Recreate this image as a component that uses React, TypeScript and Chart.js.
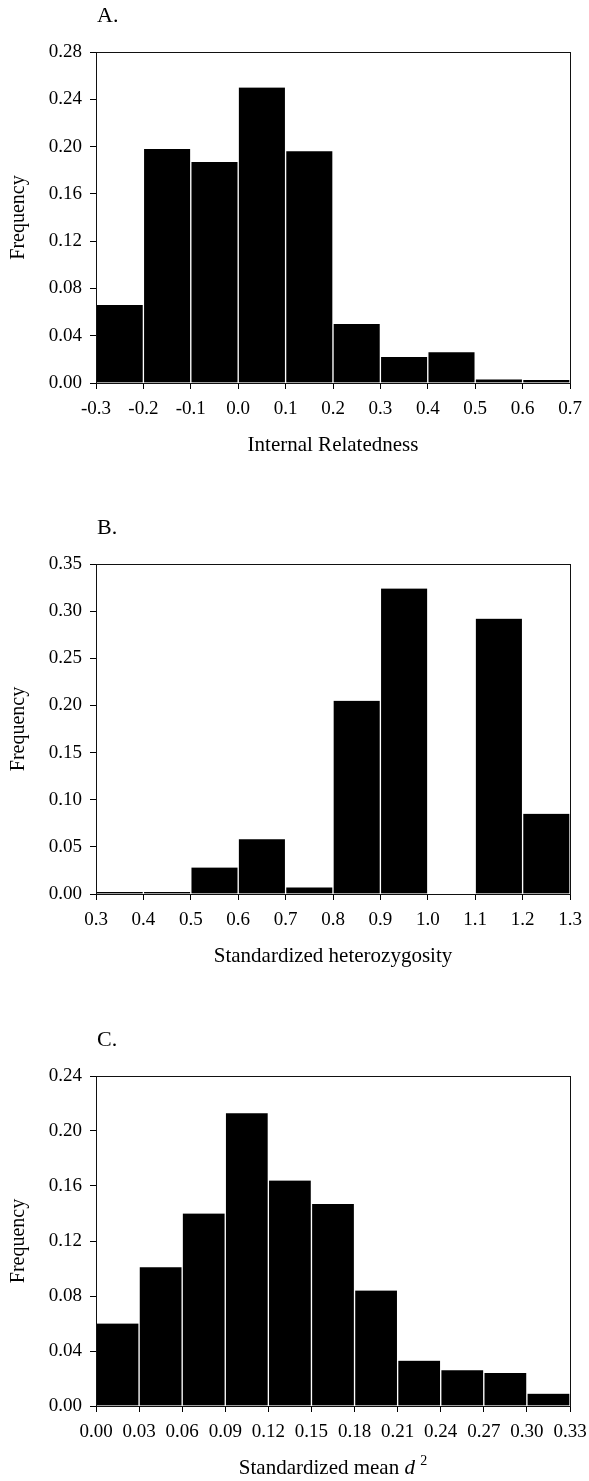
import React, { useEffect, useRef } from "react";
import { Chart, registerables } from "chart.js";

Chart.register(...registerables);

// ---------- Data ----------
// Panel A: Internal Relatedness
const edgesA = [-0.3, -0.2, -0.1, 0.0, 0.1, 0.2, 0.3, 0.4, 0.5, 0.6, 0.7];
const freqA = [0.066, 0.198, 0.187, 0.25, 0.196, 0.05, 0.022, 0.026, 0.003, 0.0025];
const yTicksA = [0, 0.04, 0.08, 0.12, 0.16, 0.2, 0.24, 0.28];

// Panel B: Standardized heterozygosity
const edgesB = [0.3, 0.4, 0.5, 0.6, 0.7, 0.8, 0.9, 1.0, 1.1, 1.2, 1.3];
const freqB = [0.002, 0.002, 0.028, 0.058, 0.007, 0.205, 0.324, 0, 0.292, 0.085];
const yTicksB = [0, 0.05, 0.1, 0.15, 0.2, 0.25, 0.3, 0.35];

// Panel C: Standardized mean d^2
const edgesC = [0, 0.03, 0.06, 0.09, 0.12, 0.15, 0.18, 0.21, 0.24, 0.27, 0.3, 0.33];
const freqC = [0.06, 0.101, 0.14, 0.213, 0.164, 0.147, 0.084, 0.033, 0.026, 0.024, 0.009];
const yTicksC = [0, 0.04, 0.08, 0.12, 0.16, 0.2, 0.24];

const labelA = "A.";
const labelB = "B.";
const labelC = "C.";
const titleA = [{ text: "Internal Relatedness" }];
const titleB = [{ text: "Standardized heterozygosity" }];
const titleC = [
  { text: "Standardized mean " },
  { text: "d", italic: true },
  { text: " " },
  { text: "2", size: 14, rise: 9 },
];
const yTitle = "Frequency";

const FONT = '"Liberation Serif", "Times New Roman", serif';

type Seg = { text: string; italic?: boolean; size?: number; rise?: number };

type Panel = {
  label: string;
  title: Seg[];
  edges: number[];
  freq: number[];
  yTicks: number[];
  xDec: number;
  height: number;
  top: number;
  bottom: number;
  right: number;
};

const panels: Panel[] = [
  { label: labelA, title: titleA, edges: edgesA, freq: freqA, yTicks: yTicksA, xDec: 1, height: 512, top: 52, bottom: 383, right: 570 },
  { label: labelB, title: titleB, edges: edgesB, freq: freqB, yTicks: yTicksB, xDec: 1, height: 512, top: 52, bottom: 382, right: 570 },
  { label: labelC, title: titleC, edges: edgesC, freq: freqC, yTicks: yTicksC, xDec: 2, height: 457, top: 52, bottom: 382, right: 570 },
];

const framePlugin = {
  id: "frame",
  afterDraw(chart: any, _args: any, opts: any) {
    const { ctx, chartArea: a } = chart;
    ctx.save();
    // frame
    ctx.strokeStyle = "#111";
    ctx.lineWidth = 1;
    ctx.strokeRect(Math.round(a.left) + 0.5, Math.round(a.top) + 0.5, Math.round(a.right - a.left), Math.round(a.bottom - a.top));
    // panel label
    ctx.fillStyle = "#000";
    ctx.textAlign = "left";
    ctx.textBaseline = "alphabetic";
    ctx.font = `22px ${FONT}`;
    ctx.fillText(opts.label, a.left + 1, a.top - 30);
    // x title (segments)
    const segs: Seg[] = opts.title || [];
    const fontOf = (s: Seg) => `${s.italic ? "italic " : ""}${s.size || 21}px ${FONT}`;
    let total = 0;
    const widths = segs.map((s) => {
      ctx.font = fontOf(s);
      const w = ctx.measureText(s.text).width;
      total += w;
      return w;
    });
    let x = (a.left + a.right) / 2 - total / 2;
    const base = a.bottom + 68;
    segs.forEach((s, i) => {
      ctx.font = fontOf(s);
      ctx.fillText(s.text, x, base - (s.rise || 0));
      x += widths[i];
    });
    ctx.restore();
  },
};

function HistPanel({ p }: { p: Panel }) {
  const ref = useRef<HTMLCanvasElement | null>(null);
  useEffect(() => {
    document.body.style.margin = "0";
    const canvas = ref.current;
    if (!canvas) return;
    const centers = p.freq.map((_, i) => (p.edges[i] + p.edges[i + 1]) / 2);
    const data = p.freq.map((v, i) => ({ x: centers[i], y: v }));
    const axisH = p.height - p.bottom;
    const chart = new Chart(canvas, {
      type: "bar",
      data: {
        datasets: [
          {
            data: data as any,
            backgroundColor: "#000",
            borderColor: "#fff",
            borderWidth: { left: 1, right: 1, top: 0, bottom: 0 } as any,
            barPercentage: 1,
            categoryPercentage: 1,
          },
        ],
      },
      options: {
        responsive: false,
        animation: false,
        events: [],
        layout: { padding: { left: 0, right: 589 - p.right, top: p.top, bottom: 0 } },
        plugins: {
          legend: { display: false },
          tooltip: { enabled: false },
          frame: { label: p.label, title: p.title },
        } as any,
        scales: {
          x: {
            type: "linear",
            min: p.edges[0],
            max: p.edges[p.edges.length - 1],
            offset: false,
            afterBuildTicks: (axis: any) => {
              axis.ticks = p.edges.map((v) => ({ value: v }));
            },
            afterFit: (s: any) => {
              s.height = axisH;
              s.paddingLeft = 0;
              s.paddingRight = 0;
            },
            ticks: {
              autoSkip: false,
              maxRotation: 0,
              color: "#000",
              padding: 9,
              font: { family: FONT, size: 19 },
              callback: (v: any) => Number(v).toFixed(p.xDec),
            },
            grid: { display: true, drawOnChartArea: false, drawTicks: true, tickLength: 6, color: "#000", offset: false },
            border: { display: true, color: "#000", width: 1 },
          } as any,
          y: {
            type: "linear",
            min: 0,
            max: p.yTicks[p.yTicks.length - 1],
            afterBuildTicks: (axis: any) => {
              axis.ticks = p.yTicks.map((v) => ({ value: v }));
            },
            afterFit: (s: any) => {
              s.width = 96;
              s.paddingTop = 0;
              s.paddingBottom = 0;
            },
            ticks: {
              color: "#000",
              padding: 8,
              font: { family: FONT, size: 19 },
              callback: (v: any) => Number(v).toFixed(2),
            },
            grid: { display: true, drawOnChartArea: false, drawTicks: true, tickLength: 6, color: "#000" },
            border: { display: true, color: "#000", width: 1 },
            title: {
              display: true,
              text: yTitle,
              color: "#000",
              font: { family: FONT, size: 20 },
              padding: { top: 7, bottom: 0 },
            },
          } as any,
        },
      },
      plugins: [framePlugin as any],
    });
    return () => chart.destroy();
  }, [p]);
  return <canvas ref={ref} width={589} height={p.height} style={{ display: "block" }} />;
}

export default function App() {
  return (
    <div style={{ width: 589, height: 1481, background: "#fff" }}>
      {panels.map((p) => (
        <HistPanel key={p.label} p={p} />
      ))}
    </div>
  );
}
